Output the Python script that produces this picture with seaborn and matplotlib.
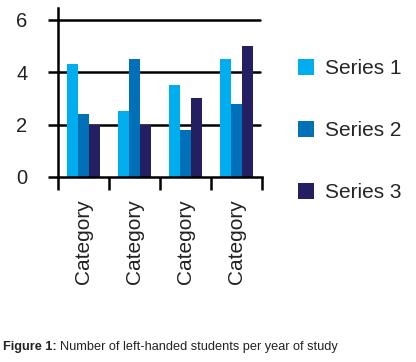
import matplotlib
matplotlib.use("Agg")
import matplotlib.pyplot as plt
import seaborn as sns
import pandas as pd
from matplotlib.patches import Patch

categories = ["Category 1", "Category 2", "Category 3", "Category 4"]
tick_labels = ["Category", "Category", "Category", "Category"]
series_names = ["Series 1", "Series 2", "Series 3"]
series_1 = [4.3, 2.5, 3.5, 4.5]
series_2 = [2.4, 4.5, 1.8, 2.8]
series_3 = [2.0, 2.0, 3.0, 5.0]
colors = ["#00AEEF", "#0070B8", "#231F62"]

rows = []
for name, vals in zip(series_names, [series_1, series_2, series_3]):
    for cat, v in zip(categories, vals):
        rows.append({"category": cat, "series": name, "value": v})
df = pd.DataFrame(rows)

sns.set_style("white")
plt.rcParams["font.family"] = ["Liberation Sans", "DejaVu Sans"]

fig = plt.figure(figsize=(4.16, 3.62), dpi=100)
ax = fig.add_axes([58 / 416, 1 - 177 / 362, (262 - 58) / 416, (177 - 8) / 362])

sns.barplot(data=df, x="category", y="value", hue="series", palette=colors,
            width=0.65, gap=0, saturation=1, legend=False, ax=ax, zorder=2,
            linewidth=0)

ax.set_xlim(-0.5, 3.5)
ax.set_ylim(0, 6.45)
ax.set_xlabel("")
ax.set_ylabel("")

for y in [2, 4, 6]:
    ax.axhline(y, color="black", lw=1.8, zorder=0, xmax=0.99)

ax.set_yticks([0, 2, 4, 6])
ax.set_yticklabels(["0", "2", "4", "6"], fontsize=14.5, color="#222222")
ax.tick_params(axis="y", length=7, width=1.8, color="black", pad=15, left=True)

ax.set_xticks([-0.5, 0.5, 1.5, 2.5, 3.5])
ax.set_xticklabels([])
ax.tick_params(axis="x", which="major", length=9, width=1.8, color="black", bottom=True)
ax.set_xticks([0, 1, 2, 3], minor=True)
ax.set_xticklabels(tick_labels, minor=True, rotation=90, fontsize=15, color="#222222")
ax.tick_params(axis="x", which="minor", length=0, pad=16)

for s in ["top", "right"]:
    ax.spines[s].set_visible(False)
for s in ["left", "bottom"]:
    ax.spines[s].set_color("black")
    ax.spines[s].set_linewidth(1.8)

handles = [Patch(facecolor=c, edgecolor="none") for c in colors]
fig.legend(handles, series_names, loc="upper left", bbox_to_anchor=(279 / 416, 1 - 40 / 362),
           frameon=False, fontsize=15, handlelength=0.8, handleheight=0.8,
           labelspacing=2.05, handletextpad=0.5)

t1 = fig.text(3 / 416, 1 - 347 / 362, "Figure 1:", fontsize=9.2, fontweight="bold",
              va="center", ha="left", color="#222222")
fig.canvas.draw()
bb = t1.get_window_extent()
fig.text((bb.x1 + 3) / 416, 1 - 347 / 362, "Number of left-handed students per year of study",
         fontsize=9.2, va="center", ha="left", color="#222222")

fig.savefig("out.png", dpi=100)
